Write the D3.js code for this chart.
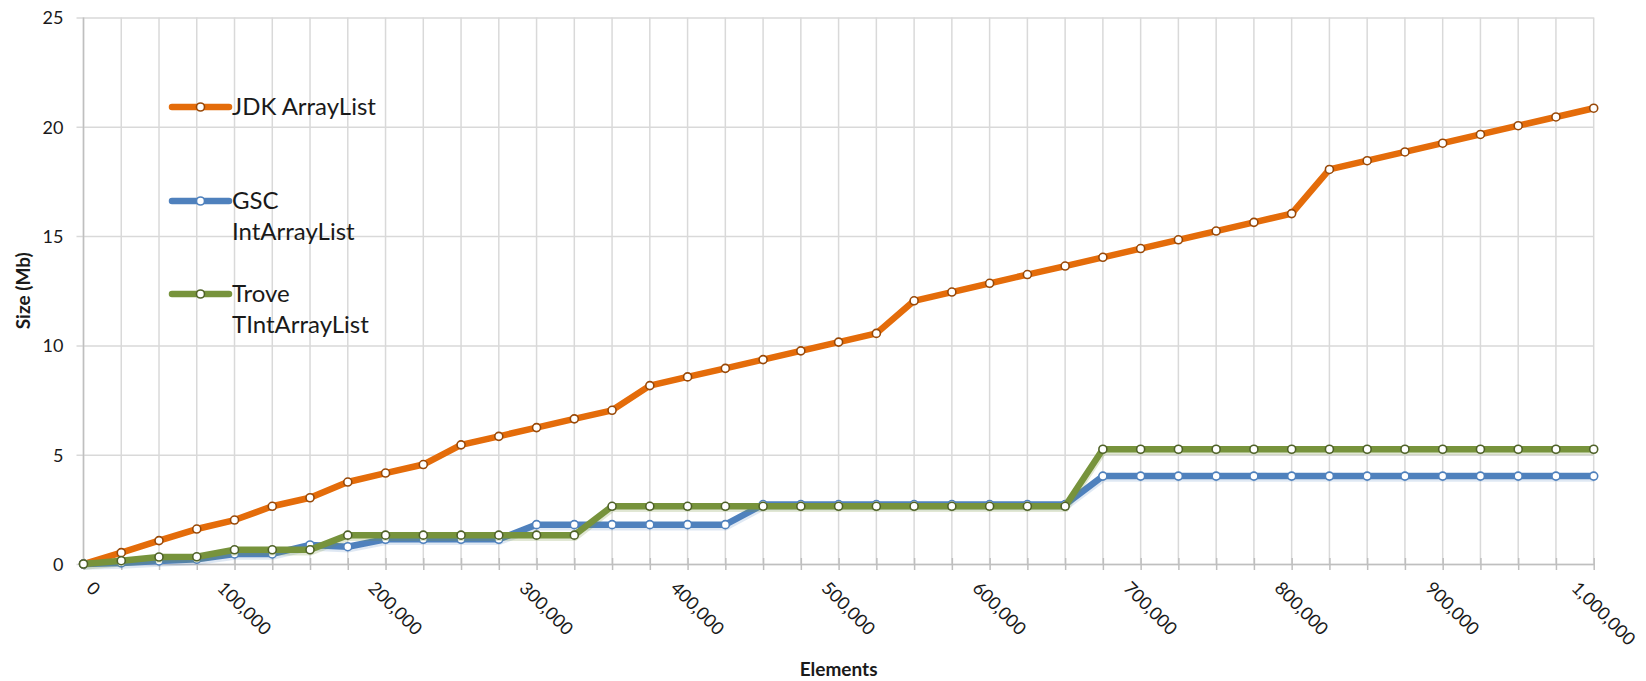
<!DOCTYPE html>
<html>
<head>
<meta charset="utf-8">
<script src="https://cdn.jsdelivr.net/npm/d3@7"></script>
<style>
    body { margin: 0; background: #fff; }
    text { font-family: Lato, "Open Sans", sans-serif; fill: #1a1a1a; }
    .title { font-weight: bold; font-size: 19px; }
    .tick_label { font-size: 18px; }
    .legend { font-size: 24px; }
</style>
</head>
<body>
<div id="chart"></div>
<script>
// number of elements (categories on the x axis)
let elements = [0, 25000, 50000, 75000, 100000, 125000, 150000, 175000, 200000, 225000,
    250000, 275000, 300000, 325000, 350000, 375000, 400000, 425000, 450000, 475000,
    500000, 525000, 550000, 575000, 600000, 625000, 650000, 675000, 700000, 725000,
    750000, 775000, 800000, 825000, 850000, 875000, 900000, 925000, 950000, 975000, 1000000];

// size in Mb
let jdk = [0, 0.52, 1.07, 1.6, 2.01, 2.64, 3.03, 3.75, 4.16, 4.55,
    5.45, 5.84, 6.24, 6.64, 7.03, 8.16, 8.56, 8.95, 9.35, 9.75,
    10.15, 10.55, 12.04, 12.44, 12.84, 13.24, 13.63, 14.03, 14.43, 14.83,
    15.23, 15.63, 16.03, 18.05, 18.45, 18.85, 19.25, 19.65, 20.05, 20.45, 20.85];
let gsc = [0, 0.05, 0.14, 0.22, 0.46, 0.46, 0.87, 0.79, 1.13, 1.13,
    1.13, 1.13, 1.8, 1.8, 1.8, 1.8, 1.8, 1.8, 2.72, 2.72,
    2.72, 2.72, 2.72, 2.72, 2.72, 2.72, 2.72, 4.02, 4.02, 4.02,
    4.02, 4.02, 4.02, 4.02, 4.02, 4.02, 4.02, 4.02, 4.02, 4.02, 4.02];
let trove = [0, 0.15, 0.32, 0.33, 0.65, 0.65, 0.65, 1.32, 1.32, 1.32,
    1.32, 1.32, 1.32, 1.32, 2.64, 2.64, 2.64, 2.64, 2.64, 2.64,
    2.64, 2.64, 2.64, 2.64, 2.64, 2.64, 2.64, 5.25, 5.25, 5.25,
    5.25, 5.25, 5.25, 5.25, 5.25, 5.25, 5.25, 5.25, 5.25, 5.25, 5.25];

let seriesNames = [["JDK ArrayList"], ["GSC", "IntArrayList"], ["Trove", "TIntArrayList"]];
let xLabels = ["0", "100,000", "200,000", "300,000", "400,000", "500,000",
    "600,000", "700,000", "800,000", "900,000", "1,000,000"];
let yTicks = [0, 5, 10, 15, 20, 25];

let width = 1646, height = 681;
let margin = {top: 17.5, right: 52.3, bottom: 117, left: 83.5};

let svg = d3.select("#chart")
    .append("svg")
    .attr("width", width)
    .attr("height", height);

let xScale = d3.scalePoint()
    .domain(elements)
    .range([margin.left, width - margin.right]);

let yScale = d3.scaleLinear()
    .domain([0, 25])
    .range([height - margin.bottom, margin.top]);

let y0 = yScale(0);

// horizontal gridlines + y labels
let yAxis = d3.axisLeft(yScale)
    .tickValues(yTicks)
    .tickSize(-(width - margin.right - margin.left) - 7)
    .tickFormat(d3.format("d"))
    .tickPadding(12);

let yg = svg.append("g")
    .attr("transform", "translate(" + (margin.left - 7) + ",0)")
    .call(yAxis);
yg.select(".domain").remove();
yg.selectAll("line").attr("stroke", "#d9d9d9").attr("stroke-width", 1.5);
yg.selectAll("text").attr("class", "tick_label").attr("x", -13).attr("dx", 0).attr("dy", "0.35em");

// vertical gridlines, one per category
svg.append("g")
    .selectAll("line")
    .data(elements)
    .enter()
    .append("line")
    .attr("x1", d => xScale(d))
    .attr("x2", d => xScale(d))
    .attr("y1", margin.top)
    .attr("y2", y0)
    .attr("stroke", "#d9d9d9")
    .attr("stroke-width", 1.5);

// axis lines
svg.append("line")
    .attr("x1", margin.left).attr("x2", margin.left)
    .attr("y1", margin.top).attr("y2", y0)
    .attr("stroke", "#bfbfbf").attr("stroke-width", 1.5);

let xAxis = d3.axisBottom(xScale)
    .tickSizeInner(6)
    .tickSizeOuter(0)
    .tickFormat("");

let xg = svg.append("g")
    .attr("transform", "translate(0," + y0 + ")")
    .call(xAxis);
xg.select(".domain").attr("stroke", "#bfbfbf").attr("stroke-width", 1.5);
xg.selectAll("line").attr("stroke", "#bfbfbf").attr("stroke-width", 1.5).attr("y1", -6);

// rotated x labels, every 4th category
let a = 13;
svg.append("g")
    .selectAll("text")
    .data(xLabels)
    .enter()
    .append("text")
    .attr("class", "tick_label")
    .text(d => d)
    .each(function(d, i) {
        let L = this.getComputedTextLength();
        let tx = xScale(elements[i * 4]);
        let bx = tx + 10 - 0.3535 * (L + a);
        let by = y0 + 16 + 0.707 * a;
        d3.select(this).attr("transform", "translate(" + bx + "," + by + ") rotate(45)");
    });

// axis titles
svg.append("text")
    .attr("class", "title")
    .attr("x", (margin.left + width - margin.right) / 2)
    .attr("y", 676)
    .attr("text-anchor", "middle")
    .text("Elements");

svg.append("text")
    .attr("class", "title")
    .attr("transform", "translate(30," + (margin.top + y0) / 2 + ") rotate(-90)")
    .attr("text-anchor", "middle")
    .text("Size (Mb)");

// series
let series = [
    {values: jdk, color: "#e46c0a", marker: "#984807", shadow: 0},
    {values: gsc, color: "#4f81bd", marker: "#4f81bd", shadow: 0.18},
    {values: trove, color: "#77933c", marker: "#4f6228", shadow: 0.22}
];

let line = d3.line()
    .x((d, i) => xScale(elements[i]))
    .y(d => yScale(d));

series.forEach(function(s) {
    if (s.shadow > 0) {
        svg.append("path")
            .datum(s.values)
            .attr("d", line)
            .attr("fill", "none")
            .attr("stroke", s.color)
            .attr("stroke-opacity", s.shadow)
            .attr("stroke-width", 6.5)
            .attr("transform", "translate(0.5,2.5)");
    }

    svg.append("path")
        .datum(s.values)
        .attr("d", line)
        .attr("fill", "none")
        .attr("stroke", s.color)
        .attr("stroke-width", 6.5)
        .attr("stroke-linejoin", "round");

    svg.append("g")
        .selectAll("circle")
        .data(s.values)
        .enter()
        .append("circle")
        .attr("cx", (d, i) => xScale(elements[i]))
        .attr("cy", d => yScale(d))
        .attr("r", 4)
        .attr("fill", "#fff")
        .attr("stroke", s.marker)
        .attr("stroke-width", 1.6);
});

// legend
let legendY = [107, 201, 294];
let lg = svg.append("g");
series.forEach(function(s, i) {
    lg.append("line")
        .attr("x1", 172).attr("x2", 229)
        .attr("y1", legendY[i]).attr("y2", legendY[i])
        .attr("stroke", s.color)
        .attr("stroke-width", 6.5)
        .attr("stroke-linecap", "round");
    lg.append("circle")
        .attr("cx", 200.5).attr("cy", legendY[i])
        .attr("r", 4)
        .attr("fill", "#fff")
        .attr("stroke", s.marker)
        .attr("stroke-width", 1.6);
    lg.selectAll(".lt" + i)
        .data(seriesNames[i])
        .enter()
        .append("text")
        .attr("class", "legend")
        .attr("x", 232)
        .attr("y", (d, j) => legendY[i] + j * 31)
        .attr("dy", "0.35em")
        .text(d => d);
});
</script>
</body>
</html>
